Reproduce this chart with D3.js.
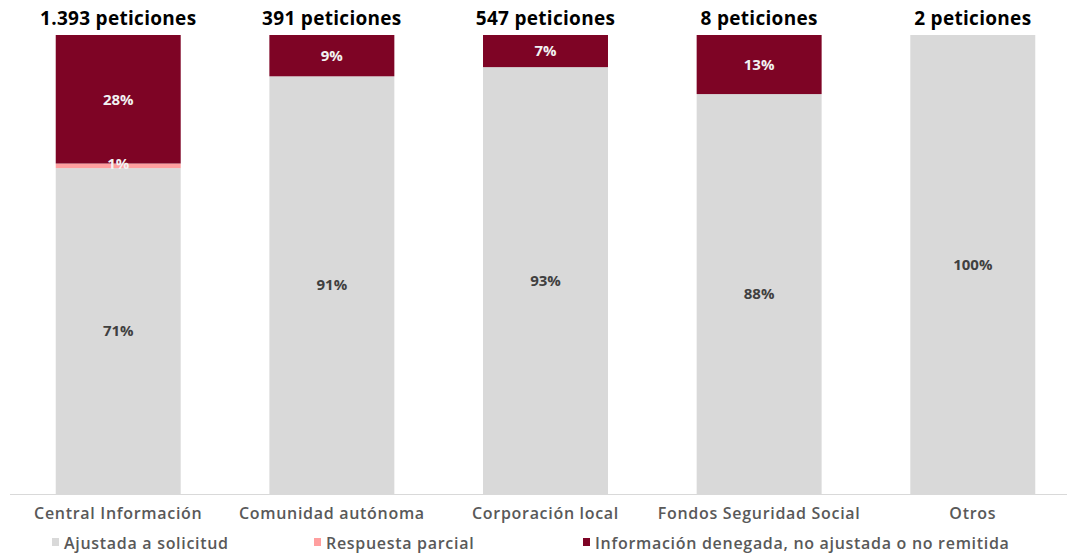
<!DOCTYPE html>
<html>
<head>
<meta charset="utf-8">
<script src="https://cdn.jsdelivr.net/npm/d3@7"></script>
<style>
  body { margin: 0; background: #fff; }
  text { font-family: "Open Sans", "DejaVu Sans", sans-serif; }
</style>
</head>
<body>
<script>
// chart data
var categories = ["Central Información", "Comunidad autónoma", "Corporación local", "Fondos Seguridad Social", "Otros"];
var totals = ["1.393 peticiones", "391 peticiones", "547 peticiones", "8 peticiones", "2 peticiones"];
var seriesNames = ["Ajustada a solicitud", "Respuesta parcial", "Información denegada, no ajustada o no remitida"];
var ajustada = [71, 91, 93, 88, 100];
var parcial = [1, 0, 0, 0, 0];
var denegada = [28, 9, 7, 13, 0];

var colors = ["#d9d9d9", "#ff9f9f", "#7e0425"];
var labelColors = ["#404040", "#f2f2f2", "#f2f2f2"];

var width = 1067,
	height = 553;

var svg = d3.select("body")
	.append("svg")
	.attr("width", width)
	.attr("height", height);

var rows = categories.map(function(c, i) {
	return { cat: c, s0: ajustada[i], s1: parcial[i], s2: denegada[i] };
});
var raw = ["s0", "s1", "s2"];

// shares are rounded so some bars add to 101: normalise each bar
var layers = d3.stack().keys(raw).offset(d3.stackOffsetExpand)(rows);

var x = d3.scaleBand()
	.domain(categories)
	.range([13, 1078])
	.paddingInner(0.415)
	.paddingOuter(0.2);

var y = d3.scaleLinear()
	.domain([0, 1])
	.range([494, 35]);

// bars
var groups = svg.selectAll("g.layer")
	.data(layers)
	.enter().append("g")
	.attr("class", "layer")
	.attr("fill", function(d, i) { return colors[i]; });

groups.selectAll("rect")
	.data(function(d) { return d; })
	.enter().append("rect")
	.attr("x", function(d) { return x(d.data.cat); })
	.attr("width", x.bandwidth())
	.attr("y", function(d) { return y(d[1]); })
	.attr("height", function(d) { return y(d[0]) - y(d[1]); });

// baseline
svg.append("line")
	.attr("x1", 10)
	.attr("x2", width)
	.attr("y1", y(0) + 0.5)
	.attr("y2", y(0) + 0.5)
	.attr("stroke", "#d9d9d9")
	.attr("stroke-width", 1);

// value labels
layers.forEach(function(layer, li) {
	svg.append("g")
		.selectAll("text")
		.data(layer.filter(function(d) { return d.data[raw[li]] > 0; }))
		.enter().append("text")
		.attr("x", function(d) { return x(d.data.cat) + x.bandwidth() / 2; })
		.attr("y", function(d) {
			var mid = (y(d[0]) + y(d[1])) / 2;
			return li === 1 ? mid - 2 : mid;
		})
		.attr("dy", "0.35em")
		.attr("text-anchor", "middle")
		.attr("font-size", 15)
		.attr("font-weight", "bold")
		.attr("fill", labelColors[li])
		.text(function(d) { return d.data[raw[li]] + "%"; });
});

// totals above bars
svg.append("g")
	.selectAll("text")
	.data(categories)
	.enter().append("text")
	.attr("x", function(d) { return x(d) + x.bandwidth() / 2; })
	.attr("y", 25)
	.attr("text-anchor", "middle")
	.attr("font-size", 19)
	.attr("letter-spacing", 0.3)
	.attr("font-weight", "bold")
	.attr("fill", "#000")
	.text(function(d, i) { return totals[i]; });

// category axis
var xAxis = svg.append("g")
	.attr("transform", "translate(0," + y(0) + ")")
	.call(d3.axisBottom(x).tickSize(0).tickPadding(14));
xAxis.select(".domain").remove();
xAxis.selectAll("text")
	.attr("font-size", 16)
	.attr("letter-spacing", 0.7)
	.attr("font-weight", 600)
	.attr("fill", "#595959")
	.style("font-family", "'Open Sans', 'DejaVu Sans', sans-serif");

// legend
var legendX = [52, 314, 583];
var legend = svg.append("g")
	.selectAll("g")
	.data(seriesNames)
	.enter().append("g")
	.attr("transform", function(d, i) { return "translate(" + legendX[i] + ",543)"; });

legend.append("rect")
	.attr("x", 0)
	.attr("y", -5)
	.attr("width", 7)
	.attr("height", 8)
	.attr("fill", function(d, i) { return colors[i]; });

legend.append("text")
	.attr("x", 12)
	.attr("y", 0)
	.attr("dy", "0.35em")
	.attr("font-size", 16)
	.attr("letter-spacing", 0.7)
	.attr("font-weight", 600)
	.attr("fill", "#595959")
	.text(function(d) { return d; });
</script>
</body>
</html>
